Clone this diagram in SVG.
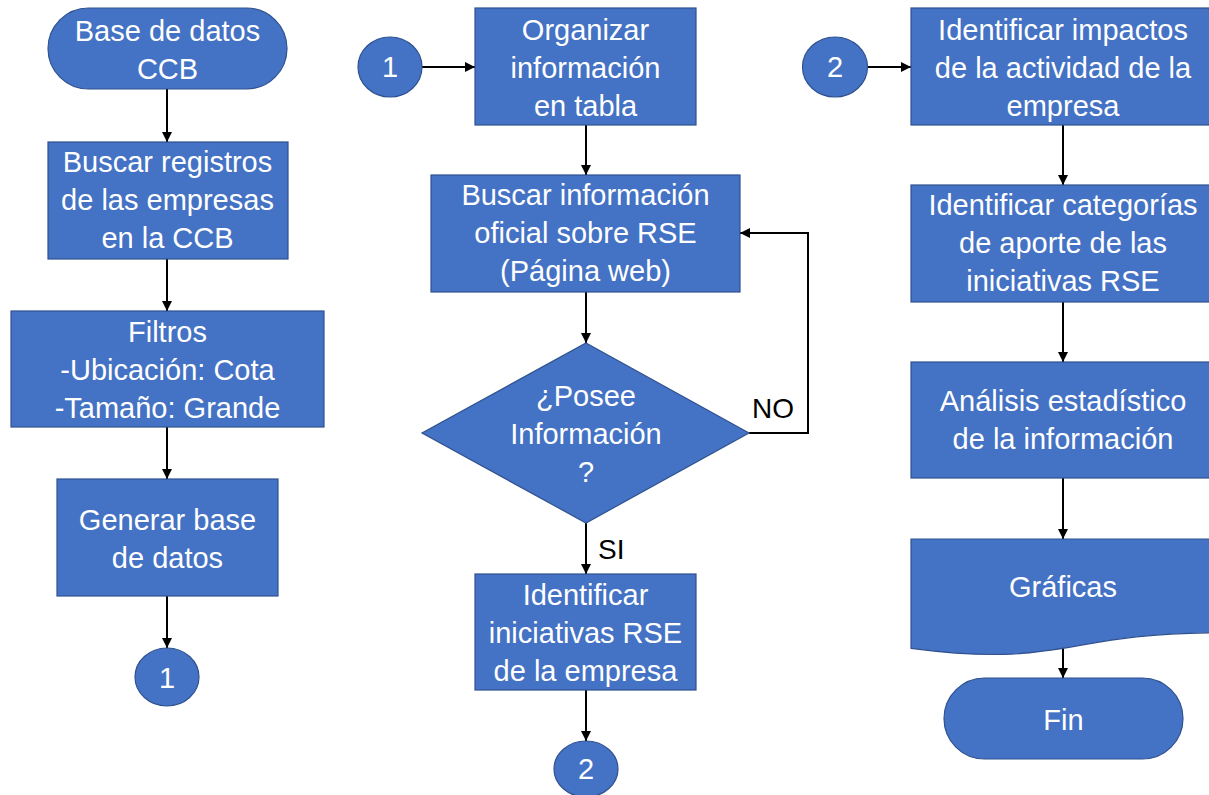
<svg xmlns="http://www.w3.org/2000/svg" width="1209" height="795" viewBox="0 0 1209 795">
<style>
.s{fill:#4472C4;stroke:#2F528F;stroke-width:1.2}
.t{font-family:"Liberation Sans",Arial,sans-serif;font-size:29px;fill:#FFFFFF;text-anchor:middle}
.l{font-family:"Liberation Sans",Arial,sans-serif;font-size:28px;fill:#000000}
.c{fill:none;stroke:#000000;stroke-width:2;marker-end:url(#ah)}
</style>
<defs>
<marker id="ah" markerUnits="userSpaceOnUse" markerWidth="10" markerHeight="10" refX="10" refY="5" orient="auto">
<path d="M0,0 L10,5 L0,10 Z" fill="#000000"/>
</marker>
</defs>
<rect width="1209" height="795" fill="#FFFFFF"/>
<g id="connectors">
<line class="c" x1="167" y1="89" x2="167" y2="142"/>
<line class="c" x1="167" y1="259" x2="167" y2="311"/>
<line class="c" x1="167" y1="427" x2="167" y2="479"/>
<line class="c" x1="167" y1="596" x2="167" y2="648"/>
<line class="c" x1="422" y1="67" x2="475" y2="67"/>
<line class="c" x1="586" y1="125" x2="586" y2="175"/>
<line class="c" x1="586" y1="292" x2="586" y2="343"/>
<line class="c" x1="586" y1="523" x2="586" y2="574"/>
<line class="c" x1="586" y1="690" x2="586" y2="741"/>
<polyline class="c" points="749,433 808,433 808,233 740,233"/>
<line class="c" x1="868" y1="67" x2="911" y2="67"/>
<line class="c" x1="1063" y1="125" x2="1063" y2="185"/>
<line class="c" x1="1063" y1="302" x2="1063" y2="362"/>
<line class="c" x1="1063" y1="478" x2="1063" y2="539"/>
<line class="c" x1="1063" y1="648" x2="1063" y2="678"/>
<text class="l" x="752" y="418">NO</text>
<text class="l" x="598" y="559">SI</text>
</g>
<g id="n-base">
<rect class="s" x="48" y="8" width="239" height="81" rx="40.5"/>
<text class="t" x="167.5" y="41">Base de datos</text>
<text class="t" x="167.5" y="79">CCB</text>
</g>
<g id="n-buscar-registros">
<rect class="s" x="48" y="142" width="240" height="117"/>
<text class="t" x="167.5" y="172">Buscar registros</text>
<text class="t" x="167.5" y="210">de las empresas</text>
<text class="t" x="167.5" y="248">en la CCB</text>
</g>
<g id="n-filtros">
<rect class="s" x="11" y="311" width="313" height="116"/>
<text class="t" x="167.5" y="342">Filtros</text>
<text class="t" x="167.5" y="380">-Ubicación: Cota</text>
<text class="t" x="167.5" y="418">-Tamaño: Grande</text>
</g>
<g id="n-generar">
<rect class="s" x="57" y="479" width="221" height="117"/>
<text class="t" x="167.5" y="530">Generar base</text>
<text class="t" x="167.5" y="568">de datos</text>
</g>
<g id="n-c1a">
<ellipse class="s" cx="167" cy="677" rx="32" ry="29"/>
<text class="t" x="167" y="688">1</text>
</g>
<g id="n-c1b">
<ellipse class="s" cx="390" cy="67" rx="32" ry="30"/>
<text class="t" x="390" y="77">1</text>
</g>
<g id="n-organizar">
<rect class="s" x="475" y="8" width="221" height="117"/>
<text class="t" x="585.5" y="40">Organizar</text>
<text class="t" x="585.5" y="78">información</text>
<text class="t" x="585.5" y="116">en tabla</text>
</g>
<g id="n-buscar-info">
<rect class="s" x="431" y="175" width="309" height="117"/>
<text class="t" x="585.5" y="205">Buscar información</text>
<text class="t" x="585.5" y="243">oficial sobre RSE</text>
<text class="t" x="585.5" y="281">(Página web)</text>
</g>
<g id="n-posee">
<polygon class="s" points="586,343 749,433 586,523 422,433"/>
<text class="t" x="586" y="406">¿Posee</text>
<text class="t" x="586" y="444">Información</text>
<text class="t" x="586" y="482">?</text>
</g>
<g id="n-identificar-iniciativas">
<rect class="s" x="475" y="574" width="221" height="116"/>
<text class="t" x="585.5" y="605">Identificar</text>
<text class="t" x="585.5" y="643">iniciativas RSE</text>
<text class="t" x="585.5" y="681">de la empresa</text>
</g>
<g id="n-c2a">
<ellipse class="s" cx="586" cy="769" rx="32" ry="28"/>
<text class="t" x="586" y="779">2</text>
</g>
<g id="n-c2b">
<ellipse class="s" cx="835" cy="67" rx="32.5" ry="30"/>
<text class="t" x="835" y="77">2</text>
</g>
<g id="n-impactos">
<rect class="s" x="911" y="8" width="306" height="117"/>
<text class="t" x="1063" y="40">Identificar impactos</text>
<text class="t" x="1063" y="78">de la actividad de la</text>
<text class="t" x="1063" y="116">empresa</text>
</g>
<g id="n-categorias">
<rect class="s" x="911" y="185" width="306" height="117"/>
<text class="t" x="1063" y="215">Identificar categorías</text>
<text class="t" x="1063" y="253">de aporte de las</text>
<text class="t" x="1063" y="291">iniciativas RSE</text>
</g>
<g id="n-analisis">
<rect class="s" x="911" y="362" width="306" height="116"/>
<text class="t" x="1063" y="411">Análisis estadístico</text>
<text class="t" x="1063" y="449">de la información</text>
</g>
<g id="n-graficas">
<path class="s" d="M911,539 H1217 V632.8 C1064,632.8 1064,668.6 911,648.3 Z"/>
<text class="t" x="1063" y="597">Gráficas</text>
</g>
<g id="n-fin">
<rect class="s" x="944" y="678" width="239" height="81" rx="40.5"/>
<text class="t" x="1063.5" y="730">Fin</text>
</g>
</svg>
